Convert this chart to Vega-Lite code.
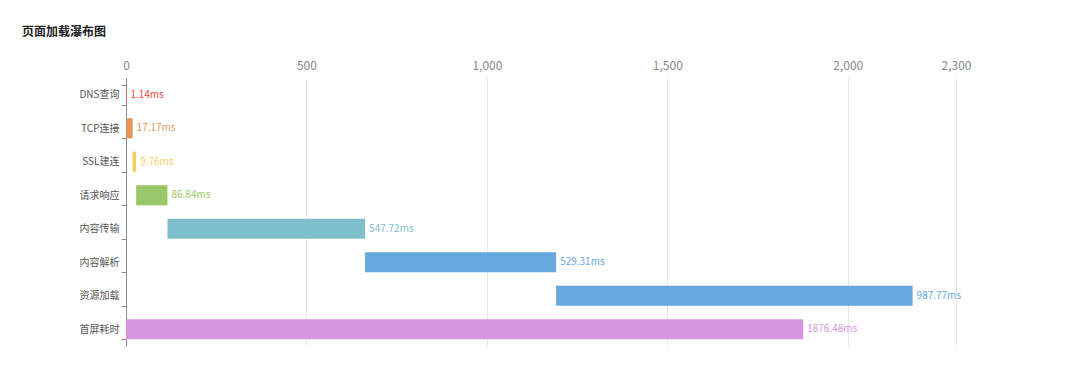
{
  "$schema": "https://vega.github.io/schema/vega-lite/v6.json",
  "width": 830,
  "height": 268,
  "autosize": {"type": "none"},
  "padding": {"left": 126, "top": 78, "right": 124, "bottom": 46},
  "background": "#ffffff",
  "title": {
    "text": "页面加载瀑布图",
    "anchor": "start",
    "frame": "group",
    "dx": -104,
    "offset": 20,
    "font": "Noto Sans CJK SC",
    "fontSize": 12,
    "fontWeight": "bold",
    "color": "#222222"
  },
  "config": {
    "view": {"stroke": null},
    "font": "Noto Sans CJK SC"
  },
  "data": {
    "values": [
      {"stage": "DNS查询", "start": 0, "end": 1.14, "label": "1.14ms"},
      {"stage": "TCP连接", "start": 1.14, "end": 18.31, "label": "17.17ms"},
      {"stage": "SSL建连", "start": 18.31, "end": 28.07, "label": "9.76ms"},
      {"stage": "请求响应", "start": 28.07, "end": 114.91, "label": "86.84ms"},
      {"stage": "内容传输", "start": 114.91, "end": 662.63, "label": "547.72ms"},
      {"stage": "内容解析", "start": 662.63, "end": 1191.94, "label": "529.31ms"},
      {"stage": "资源加载", "start": 1191.94, "end": 2179.71, "label": "987.77ms"},
      {"stage": "首屏耗时", "start": 0, "end": 1876.48, "label": "1876.48ms"}
    ]
  },
  "encoding": {
    "y": {
      "field": "stage",
      "type": "nominal",
      "sort": null,
      "scale": {"paddingInner": 0.4, "paddingOuter": 0.2},
      "axis": {
        "title": null,
        "tickBand": "extent",
        "tickSize": 5,
        "tickColor": "#8c8c8c",
        "domainColor": "#8c8c8c",
        "labelColor": "#555555",
        "labelFontSize": 10,
        "labelPadding": 2,
        "grid": false
      }
    },
    "color": {
      "field": "stage",
      "type": "nominal",
      "legend": null,
      "scale": {
        "domain": ["DNS查询", "TCP连接", "SSL建连", "请求响应", "内容传输", "内容解析", "资源加载", "首屏耗时"],
        "range": ["#e5483d", "#e8965a", "#f4d064", "#9ac76a", "#80c0cc", "#66a8e0", "#66a8e0", "#d896df"]
      }
    }
  },
  "layer": [
    {
      "mark": {"type": "bar"},
      "encoding": {
        "x": {
          "field": "start",
          "type": "quantitative",
          "scale": {"domain": [0, 2300], "nice": false},
          "axis": {
            "orient": "top",
            "title": null,
            "values": [0, 500, 1000, 1500, 2000, 2300],
            "format": ",d",
            "domain": false,
            "ticks": false,
            "labelColor": "#888888",
            "labelFontSize": 12,
            "labelPadding": 6,
            "gridColor": "#e6e8ef",
            "labelFlush": false
          }
        },
        "x2": {"field": "end"}
      }
    },
    {
      "mark": {"type": "text", "align": "left", "baseline": "middle", "dx": 4, "fontSize": 10},
      "encoding": {
        "x": {"field": "end", "type": "quantitative"},
        "text": {"field": "label"}
      }
    }
  ]
}
